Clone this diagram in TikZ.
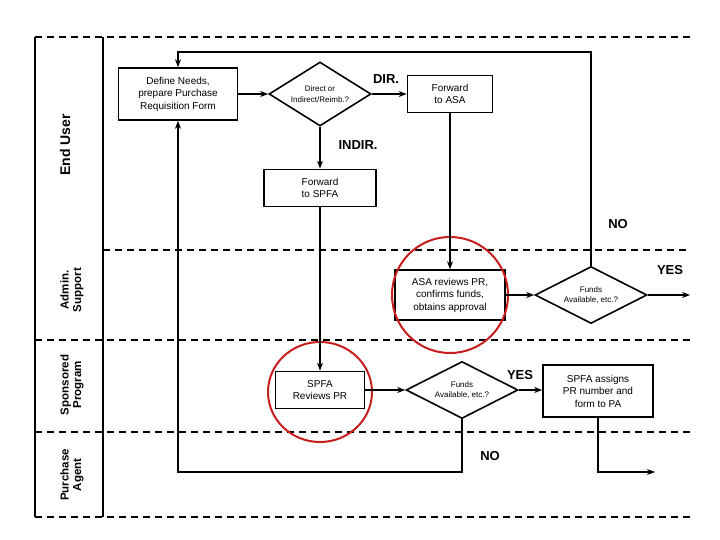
\documentclass[tikz,border=0pt]{standalone}
\usepackage{fontspec}
\setmainfont{Liberation Sans}
\usetikzlibrary{shapes.geometric,arrows.meta}
\begin{document}
\begin{tikzpicture}[x=1pt,y=-1pt,
  box/.style={draw,line width=1.6pt,align=center,font=\fontsize{10}{12.5}\selectfont,inner sep=0pt},
  dia/.style={draw,diamond,line width=1.6pt,align=center,font=\fontsize{8}{10.5}\selectfont,inner sep=0pt},
  lane/.style={line width=1.8pt,dash pattern=on 7pt off 5pt},
  lab/.style={font=\bfseries\fontsize{13}{14}\selectfont},
  lanelab/.style={rotate=90,align=center,font=\bfseries\fontsize{11.5}{12.5}\selectfont},
  ar/.style={line width=1.6pt,-{Stealth[length=8pt,width=6pt]}},
  ring/.style={draw={rgb,255:red,200;green,30;blue,30},line width=2pt}]
\useasboundingbox (0,0) rectangle (720,540);
% lanes
\draw[lane] (35,37) -- (690,37);
\draw[lane] (103,250) -- (690,250);
\draw[lane] (35,340) -- (690,340);
\draw[lane] (35,432) -- (690,432);
\draw[lane] (35,517) -- (690,517);
\draw[line width=1.8pt] (35,37) -- (35,517) (103,37) -- (103,517);
\node[lanelab,font=\bfseries\fontsize{14}{15}\selectfont] (l1) at (65,145) {End User};
\node[lanelab] (l2) at (72,290) {Admin.\\Support};
\node[lanelab] (l3) at (72,385) {Sponsored\\Program};
\node[lanelab] (l4) at (72,475) {Purchase\\Agent};
% nodes
\node[box,minimum width=119pt,minimum height=52pt] (def) at (178,94) {Define Needs,\\prepare Purchase\\Requisition Form};
\node[dia,aspect=1.6,minimum width=102pt,minimum height=64pt] (dir) at (320,94) {Direct or\\Indirect/Reimb.?};
\node[box,minimum width=85pt,minimum height=37pt] (fasa) at (450,94) {Forward\\to ASA};
\node[box,minimum width=112pt,minimum height=37pt] (fspfa) at (320,188) {Forward\\to SPFA};
\node[box,minimum width=110pt,minimum height=50pt] (asa) at (450,295) {ASA reviews PR,\\confirms funds,\\obtains approval};
\node[dia,aspect=1.95,minimum width=112pt,minimum height=57pt] (f1) at (591,295) {Funds\\Available, etc.?};
\node[box,minimum width=89pt,minimum height=37pt] (spr) at (320,390) {SPFA\\Reviews PR};
\node[dia,aspect=1.95,minimum width=112pt,minimum height=57pt] (f2) at (462,390) {Funds\\Available, etc.?};
\node[box,minimum width=110pt,minimum height=52pt] (spa) at (598,391) {SPFA assigns\\PR number and\\form to PA};
\draw[ring] (450,295) circle [radius=58pt];
\draw[ring] (320,392) ellipse [x radius=52pt,y radius=50pt];
\coordinate (t1) at (591,52);
\coordinate (t2) at (178,52);
\coordinate (b1) at (462,472);
\coordinate (b2) at (178,472);
\coordinate (yes1) at (690,295);
\coordinate (c1) at (598,472);
\coordinate (c2) at (655,472);
% connectors
\draw[ar,line width=2.8pt] (def) -- (dir);
\draw[ar,line width=2.8pt] (dir) -- (fasa);
\draw[ar] (dir) -- (fspfa);
\draw[ar] (fspfa) -- (spr);
\draw[ar] (fasa) -- (asa);
\draw[ar] (asa) -- (f1);
\draw[ar] (f1) -- (yes1);
\draw[ar] (f1.north) -- (t1) -- (t2) -- (def.north);
\draw[ar] (spr) -- (f2);
\draw[ar] (f2.east) -- (f2.east -| spa.west);
\draw[ar] (f2.south) -- (b1) -- (b2) -- (def.south);
\draw[ar] (spa.south) -- (c1) -- (c2);
% labels
\node[lab] (ldir) at (386,79) {DIR.};
\node[lab] (lindir) at (358,145) {INDIR.};
\node[lab] (lno1) at (618,224) {NO};
\node[lab] (lyes1) at (670,270) {YES};
\node[lab] (lyes2) at (520,375) {YES};
\node[lab] (lno2) at (490,456) {NO};
\end{tikzpicture}
\end{document}
